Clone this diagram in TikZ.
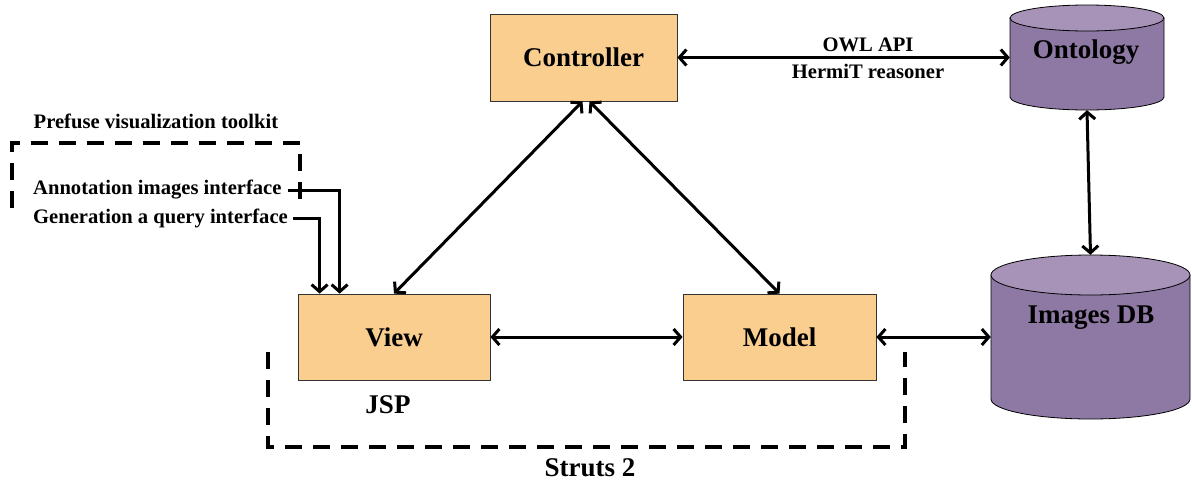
\documentclass[tikz,border=0pt]{standalone}
\usepackage{fontspec}
\setmainfont{Liberation Serif}
\usetikzlibrary{arrows.meta,calc}
\definecolor{boxfill}{RGB}{250,206,143}
\definecolor{cylbody}{RGB}{142,121,165}
\definecolor{cyltop}{RGB}{167,146,184}
\tikzset{
  mvcbox/.style={draw=black!80, line width=0.8pt, fill=boxfill, minimum width=#1, minimum height=86pt, inner sep=0pt, font=\fontsize{27}{30}\selectfont\bfseries},
  bigtxt/.style={font=\fontsize{27}{30}\selectfont\bfseries, inner sep=0pt},
  smalltxt/.style={font=\fontsize{20.6}{23}\selectfont\bfseries, inner sep=0pt},
  conn/.style={line width=3pt, >={Straight Barb[length=7pt,width=16pt]}},
  dashbox/.style={line width=3.5pt, dash pattern=on 17pt off 11pt},
  ghost/.style={inner sep=0pt, minimum width=#1}
}
\begin{document}
\begin{tikzpicture}[x=1pt,y=-1pt]
\useasboundingbox (0,0) rectangle (1192,485);
% cylinders
\filldraw[fill=cylbody, draw=black, line width=0.8pt] (1010,18) -- (1010,97) arc[start angle=180,end angle=360,x radius=77pt,y radius=13pt] -- (1164,18) -- cycle;
\filldraw[fill=cyltop, draw=black, line width=0.8pt] (1087,18) ellipse[x radius=77pt, y radius=13pt];
\node[ghost=154pt, minimum height=105pt] (onto) at (1087,57.5) {};
\node[bigtxt] (ontotxt) at (1086,52) {Ontology};

\filldraw[fill=cylbody, draw=black, line width=0.8pt] (991,275) -- (991,399) arc[start angle=180,end angle=360,x radius=99.5pt,y radius=20pt] -- (1190,275) -- cycle;
\filldraw[fill=cyltop, draw=black, line width=0.8pt] (1090.5,275) ellipse[x radius=99.5pt, y radius=20pt];
\node[ghost=199pt, minimum height=164pt] (imgdb) at (1090.5,337) {};
\node[bigtxt] (imgtxt) at (1091,318) {Images DB};

% boxes
\node[mvcbox=187pt, minimum height=87pt] (ctrl) at (583.5,57.5) {Controller};
\node[mvcbox=192pt] (view) at (394,337) {View};
\node[mvcbox=193pt] (model) at (779.5,337) {Model};

% labels
\node[bigtxt] (jsp) at (388,405) {JSP};
\node[bigtxt] (struts) at (590,468) {Struts 2};
\node[smalltxt] (prefuse) at (156,121) {Prefuse visualization toolkit};
\node[smalltxt, anchor=west] (anno) at (33,190) {Annotation images interface};
\node[smalltxt, anchor=west] (gen) at (33,218) {Generation a query interface};
\node[smalltxt] (owl) at (868,45) {OWL API};
\node[smalltxt] (hermit) at (868,71) {HermiT reasoner};

% dashed boxes
\draw[dashbox] (12,208) -- (12,143) -- (300,143) -- (300,208);
\draw[dashbox] (268,352) -- (268,447) -- (905,447) -- (905,352);

% connectors
\draw[conn,<->] (ctrl.east) -- (ctrl.east -| onto.west);
\draw[conn,<->] (onto.south) -- (imgdb.north);
\draw[conn,<->] (model.east) -- (imgdb.west);
\draw[conn,<->] (view.east) -- (model.west);
\draw[conn,<->] ([xshift=-1pt]ctrl.south) -- (view.north);
\draw[conn,<->] ([xshift=6pt]ctrl.south) -- (model.north);
\draw[conn,->] ([xshift=6pt]anno.east) -| ([xshift=42pt]view.north west);
\draw[conn,->] ([xshift=5pt]gen.east) -| ([xshift=22pt]view.north west);
\end{tikzpicture}
\end{document}
